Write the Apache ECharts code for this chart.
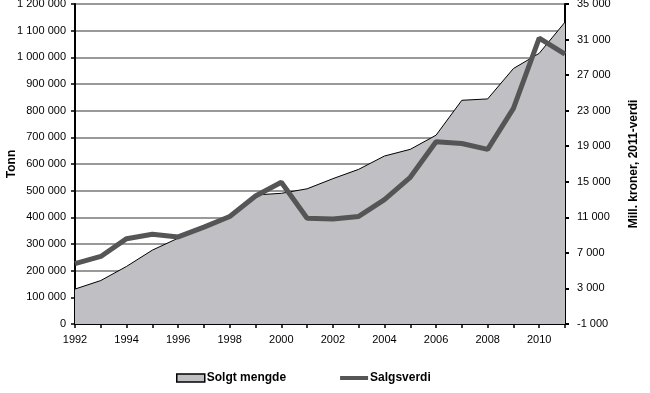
<!DOCTYPE html>
<html>
<head>
<meta charset="utf-8">
<script src="https://cdn.jsdelivr.net/npm/echarts@6/dist/echarts.min.js"></script>
<style>html,body{margin:0;padding:0;background:#fff}#c{width:650px;height:393px}</style>
</head>
<body>
<div id="c"></div>
<script>
var years = ['1992','1993','1994','1995','1996','1997','1998','1999','2000','2001','2002','2003','2004','2005','2006','2007','2008','2009','2010','2011'];
var solgtMengde = [131000,163000,216000,277000,322000,364000,405000,484000,490000,507000,545000,580000,630000,655000,708000,839000,844000,958000,1015000,1132000];
var salgsverdi = [5800,6600,8600,9100,8800,9900,11100,13400,14950,10900,10800,11100,13000,15500,19500,19300,18650,23250,31150,29350];
var rightTicks = [-1000,3000,7000,11000,15000,19000,23000,27000,31000,35000];

function fmt2(v){ var s = String(Math.abs(v)).replace(/\B(?=(\d{3})+(?!\d))/g, ' '); return (v<0?'-':'') + s; }

var chart = echarts.init(document.getElementById('c'), null, {renderer:'canvas'});
var font = 'Liberation Sans';
chart.setOption({
  animation:false,
  backgroundColor:'#fff',
  textStyle:{fontFamily:font},
  grid:{left:75,right:85,top:4,bottom:69,containLabel:false,outerBoundsMode:'none',show:true,borderColor:'#000',borderWidth:1,backgroundColor:'transparent'},
  legend:{
    left:171, top:367, itemGap:54, itemWidth:28, itemHeight:8,
    textStyle:{fontFamily:font,fontSize:12,fontWeight:'bold',color:'#000',padding:[0,0,0,-3]},
    data:[
      {name:'Solgt mengde',icon:'rect',itemStyle:{color:'#c0c0c4',borderColor:'#000',borderWidth:1.5}},
      {name:'Salgsverdi',icon:'path://M0,0H28V4H0Z',itemStyle:{color:'#555',borderWidth:0}}
    ]
  },
  xAxis:{
    type:'category', data:years, boundaryGap:false,
    axisLine:{lineStyle:{color:'#000',width:2}},
    axisTick:{interval:0,length:4,lineStyle:{color:'#000',width:1.5}},
    axisLabel:{interval:1,color:'#000',fontSize:11,fontFamily:font,margin:10},
    splitLine:{show:false}
  },
  yAxis:[{
    type:'value', min:0, max:1200000, interval:100000,
    name:'Tonn', nameLocation:'middle', nameGap:57, nameRotate:90, nameMoveOverlap:false,
    nameTextStyle:{fontFamily:font,fontSize:12,fontWeight:'bold',color:'#000'},
    axisLine:{show:true,lineStyle:{color:'#000',width:2}},
    axisTick:{show:true,length:4,lineStyle:{color:'#000',width:1.5}},
    axisLabel:{color:'#000',fontSize:11,fontFamily:font,margin:9,formatter:function(v){return fmt2(v);}},
    splitLine:{show:true,lineStyle:{color:'#999',width:2}}
  },{
    type:'value', min:-1000, max:35000, position:'right',
    name:'Mill. kroner, 2011-verdi', nameLocation:'middle', nameGap:63, nameRotate:90, nameMoveOverlap:false,
    nameTextStyle:{fontFamily:font,fontSize:12,fontWeight:'bold',color:'#000'},
    axisLine:{show:true,lineStyle:{color:'#000',width:2}},
    axisTick:{show:true,inside:false,length:4,customValues:rightTicks,lineStyle:{color:'#000',width:2}},
    axisLabel:{color:'#000',fontSize:11,fontFamily:font,margin:12,customValues:rightTicks,formatter:function(v){return fmt2(v);}},
    splitLine:{show:false}
  }],
  series:[{
    name:'Solgt mengde', type:'line', yAxisIndex:0, data:solgtMengde,
    symbol:'none', z:2,
    itemStyle:{color:'#c0c0c4'},
    lineStyle:{color:'#000',width:1},
    areaStyle:{color:'#c0c0c4',opacity:1}
  },{
    name:'Salgsverdi', type:'line', yAxisIndex:1, data:salgsverdi,
    symbol:'none', z:3,
    itemStyle:{color:'#555'},
    lineStyle:{color:'#555',width:5}
  }]
});
</script>
</body>
</html>
